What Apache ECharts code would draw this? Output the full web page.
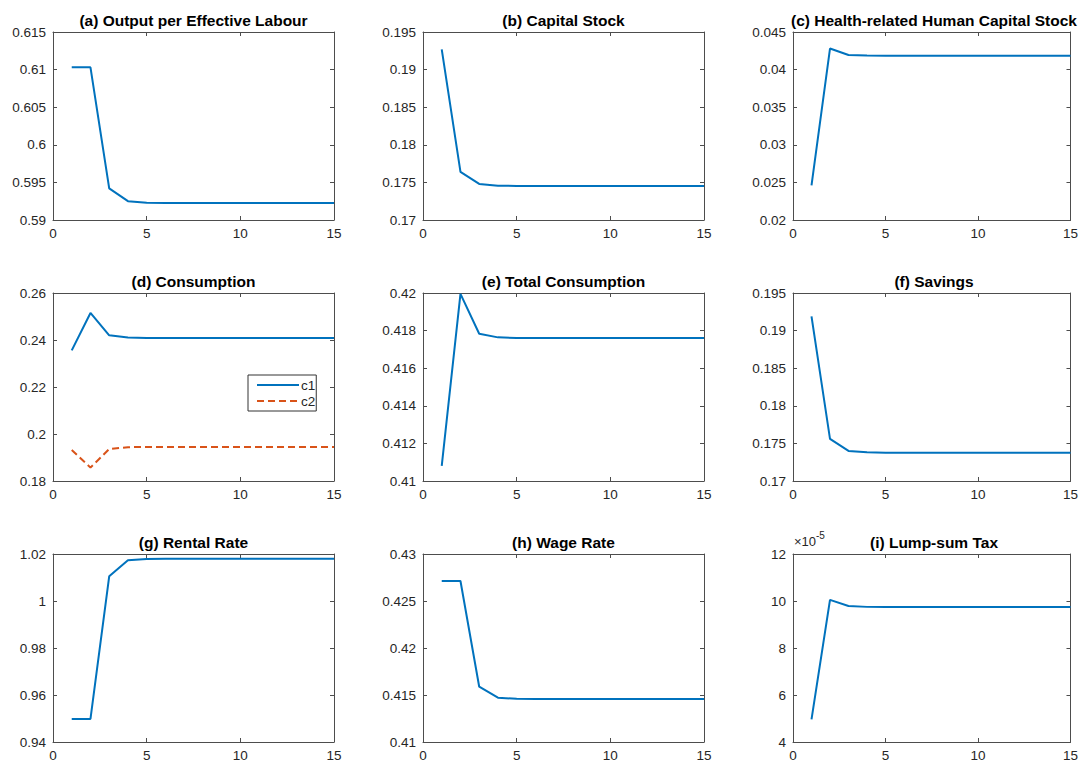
<!DOCTYPE html>
<html>
<head>
<meta charset="utf-8">
<script src="https://cdn.jsdelivr.net/npm/echarts@6/dist/echarts.min.js"></script>
<style>
html,body{margin:0;padding:0;background:#fff;}
#chart{width:1081px;height:762px;}
</style>
</head>
<body>
<div id="chart"></div>
<script>
// ---- data ----
const periods = [1,2,3,4,5,6,7,8,9,10,11,12,13,14,15];
const outputPerLabour = [0.6103,0.6103,0.5942,0.5925,0.5923,0.59225,0.59225,0.59225,0.59225,0.59225,0.59225,0.59225,0.59225,0.59225,0.59225];
const capitalStock = [0.1927,0.1764,0.1748,0.17457,0.17453,0.17452,0.17452,0.17452,0.17452,0.17452,0.17452,0.17452,0.17452,0.17452,0.17452];
const healthCapital = [0.0246,0.0428,0.04195,0.04188,0.04185,0.04185,0.04185,0.04185,0.04185,0.04185,0.04185,0.04185,0.04185,0.04185,0.04185];
const consumptionC1 = [0.2356,0.2515,0.2420,0.2411,0.2408,0.2408,0.2408,0.2408,0.2408,0.2408,0.2408,0.2408,0.2408,0.2408,0.2408];
const consumptionC2 = [0.1932,0.1857,0.1936,0.1944,0.1945,0.1945,0.1945,0.1945,0.1945,0.1945,0.1945,0.1945,0.1945,0.1945,0.1945];
const totalConsumption = [0.4108,0.41995,0.41783,0.41764,0.4176,0.4176,0.4176,0.4176,0.4176,0.4176,0.4176,0.4176,0.4176,0.4176,0.4176];
const savings = [0.1919,0.1756,0.1740,0.17382,0.17377,0.17377,0.17377,0.17377,0.17377,0.17377,0.17377,0.17377,0.17377,0.17377,0.17377];
const rentalRate = [0.9498,0.9498,1.0105,1.0173,1.0179,1.0180,1.0180,1.0180,1.0180,1.0180,1.0180,1.0180,1.0180,1.0180,1.0180];
const wageRate = [0.42713,0.42713,0.41588,0.41471,0.4146,0.41457,0.41457,0.41457,0.41457,0.41457,0.41457,0.41457,0.41457,0.41457,0.41457];
const lumpSumTax = [4.96e-5,10.05e-5,9.79e-5,9.75e-5,9.74e-5,9.74e-5,9.74e-5,9.74e-5,9.74e-5,9.74e-5,9.74e-5,9.74e-5,9.74e-5,9.74e-5,9.74e-5];

const titles = ['(a) Output per Effective Labour','(b) Capital Stock','(c) Health-related Human Capital Stock',
  '(d) Consumption','(e) Total Consumption','(f) Savings',
  '(g) Rental Rate','(h) Wage Rate','(i) Lump-sum Tax'];
const xTicks = {min:0, max:15, interval:5};
const yRanges = [
  {min:0.59, max:0.615, interval:0.005},
  {min:0.17, max:0.195, interval:0.005},
  {min:0.02, max:0.045, interval:0.005},
  {min:0.18, max:0.26, interval:0.02},
  {min:0.41, max:0.42, interval:0.002},
  {min:0.17, max:0.195, interval:0.005},
  {min:0.94, max:1.02, interval:0.02},
  {min:0.41, max:0.43, interval:0.005},
  {min:4e-5, max:12e-5, interval:2e-5}
];
const panelSeries = [
  [{name:'y', data:outputPerLabour}],
  [{name:'k', data:capitalStock}],
  [{name:'h', data:healthCapital}],
  [{name:'c1', data:consumptionC1}, {name:'c2', data:consumptionC2, dashed:true}],
  [{name:'C', data:totalConsumption}],
  [{name:'s', data:savings}],
  [{name:'r', data:rentalRate}],
  [{name:'w', data:wageRate}],
  [{name:'T', data:lumpSumTax}]
];

// ---- layout ----
const colLeft = [53, 423, 793];
const colWidth = [281, 281, 282];
const rowTop = [32, 293, 554];
const plotH = 188;
const FONT = '"Liberation Sans", Arial, Helvetica, sans-serif';
const AX = '#4d4d4d';
const TXT = '#262626';

const grids = [], xAxes = [], yAxes = [], series = [], graphics = [];
for (let i = 0; i < 9; i++) {
  const r = Math.floor(i / 3), c = i % 3;
  grids.push({left: colLeft[c], top: rowTop[r], width: colWidth[c], height: plotH, containLabel: false});
  const lineStyle = {color: AX, width: 1};
  const tick = {show: true, inside: true, length: 4, lineStyle: {color: AX, width: 1}};
  xAxes.push({gridIndex: i, type: 'value', position: 'bottom', min: xTicks.min, max: xTicks.max, interval: xTicks.interval,
    axisLine: {show: true, onZero: false, lineStyle}, axisTick: tick, splitLine: {show: false},
    axisLabel: {show: true, margin: 6, color: TXT, fontSize: 13.5, fontFamily: FONT}});
  xAxes.push({gridIndex: i, type: 'value', position: 'top', min: xTicks.min, max: xTicks.max, interval: xTicks.interval,
    axisLine: {show: true, onZero: false, lineStyle}, axisTick: tick, splitLine: {show: false}, axisLabel: {show: false}});
  const yr = yRanges[i];
  const fmt = (i === 8) ? (v => String(Math.round(v * 1e5))) : undefined;
  yAxes.push({gridIndex: i, type: 'value', position: 'left', min: yr.min, max: yr.max, interval: yr.interval,
    axisLine: {show: true, onZero: false, lineStyle}, axisTick: tick, splitLine: {show: false},
    axisLabel: {show: true, margin: 7, color: TXT, fontSize: 13.5, fontFamily: FONT, formatter: fmt}});
  yAxes.push({gridIndex: i, type: 'value', position: 'right', min: yr.min, max: yr.max, interval: yr.interval,
    axisLine: {show: true, onZero: false, lineStyle}, axisTick: tick, splitLine: {show: false}, axisLabel: {show: false}});
  panelSeries[i].forEach(s => {
    series.push({
      name: s.name, type: 'line', xAxisIndex: 2 * i, yAxisIndex: 2 * i,
      data: periods.map((p, k) => [p, s.data[k]]),
      symbol: 'none', showSymbol: false, clip: false,
      lineStyle: s.dashed ? {color: '#D95319', width: 2, type: [7, 4]} : {color: '#0072BD', width: 2},
      itemStyle: {color: s.dashed ? '#D95319' : '#0072BD'}
    });
  });
  graphics.push({type: 'text', style: {text: titles[i], x: colLeft[c] + colWidth[c] / 2, y: rowTop[r] - 12,
    align: 'center', verticalAlign: 'middle', fill: '#000', font: 'bold 15.5px ' + FONT}});
}
graphics.push({type: 'text', style: {text: '×10', x: 794, y: 541, align: 'left', verticalAlign: 'middle',
  fill: TXT, font: '13px ' + FONT}});
graphics.push({type: 'text', style: {text: '-5', x: 816, y: 535, align: 'left', verticalAlign: 'middle',
  fill: TXT, font: '10px ' + FONT}});

const chart = echarts.init(document.getElementById('chart'), null, {renderer: 'svg'});
chart.setOption({
  animation: false,
  backgroundColor: '#fff',
  grid: grids, xAxis: xAxes, yAxis: yAxes, series,
  legend: {data: ['c1', 'c2'], orient: 'vertical', left: 248, top: 375, itemWidth: 42, itemHeight: 12, itemGap: 2,
    padding: [3, 1, 3, 8], borderColor: '#333', borderWidth: 1, backgroundColor: '#fff',
    itemStyle: {opacity: 0},
    textStyle: {fontSize: 13.5, color: TXT, fontFamily: FONT, width: 15, overflow: 'none', padding: [0, 0, 0, -3]}},
  graphic: graphics
});
</script>
</body>
</html>
